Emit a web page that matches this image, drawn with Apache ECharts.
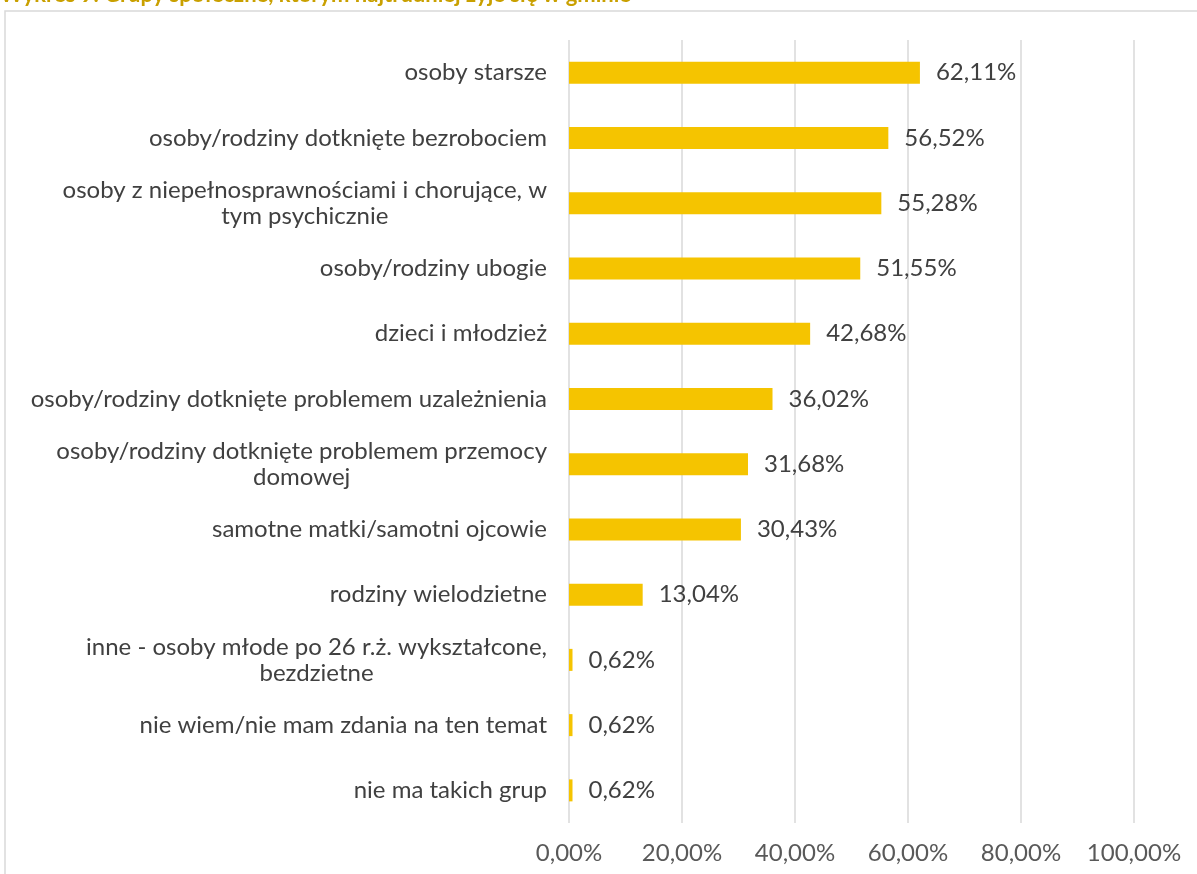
<!DOCTYPE html>
<html><head><meta charset="utf-8">
<script src="https://cdn.jsdelivr.net/npm/echarts@6/dist/echarts.min.js"></script>
<style>html,body{margin:0;padding:0;background:#fff}#c{width:1197px;height:874px}</style>
</head><body><div id="c"></div>
<script>
const titleText = 'Wykres 9. Grupy społeczne, którym najtrudniej żyje się w gminie';
const categories = [
  'osoby starsze',
  'osoby/rodziny dotknięte bezrobociem',
  'osoby z niepełnosprawnościami i chorujące, w\ntym psychicznie',
  'osoby/rodziny ubogie',
  'dzieci i młodzież',
  'osoby/rodziny dotknięte problemem uzależnienia',
  'osoby/rodziny dotknięte problemem przemocy\ndomowej',
  'samotne matki/samotni ojcowie',
  'rodziny wielodzietne',
  'inne - osoby młode po 26 r.ż. wykształcone,\nbezdzietne',
  'nie wiem/nie mam zdania na ten temat',
  'nie ma takich grup'
];
const values = [62.11, 56.52, 55.28, 51.55, 42.68, 36.02, 31.68, 30.43, 13.04, 0.62, 0.62, 0.62];

const FONT = 'Lato, "Noto Sans", sans-serif';
const FS = 24;
function fmtPct(v){ return v.toFixed(2).replace('.', ',') + '%'; }

const chart = echarts.init(document.getElementById('c'));
chart.setOption({
  animation: false,
  graphic: [
    { type: 'rect', shape: { x: 5, y: 11, width: 1300, height: 1000 },
      style: { fill: 'none', stroke: '#D9D9D9', lineWidth: 1.5 } },
    { type: 'text', left: 0, top: -16,
      style: { text: titleText, fill: '#C9A000', font: 'bold 22px ' + FONT } }
  ],
  grid: { left: 569, right: 63, top: 40, bottom: 51, containLabel: false },
  xAxis: {
    type: 'value', min: 0, max: 100, interval: 20,
    axisLine: { show: false }, axisTick: { show: false },
    splitLine: { lineStyle: { color: '#D9D9D9', width: 1.5 } },
    axisLabel: { formatter: fmtPct, color: '#595959', fontSize: FS, fontFamily: FONT, margin: 18 }
  },
  yAxis: {
    type: 'category', data: categories, inverse: true,
    axisLine: { show: false }, axisTick: { show: false },
    axisLabel: {
      color: '#404040', fontSize: FS, fontFamily: FONT, margin: 22, lineHeight: 26,
      formatter: function (v) {
        if (v.indexOf('\n') < 0) return v;
        return '{c|' + v + '}';
      },
      rich: {
        c: { align: 'center', color: '#404040', fontSize: FS, fontFamily: FONT, lineHeight: 26 }
      }
    }
  },
  series: [{
    type: 'bar', data: values, barWidth: 22,
    itemStyle: { color: '#F5C400' },
    label: { show: true, position: 'right', distance: 16, formatter: p => fmtPct(p.value),
      color: '#404040', fontSize: FS, fontFamily: FONT }
  }]
});
</script></body></html>
